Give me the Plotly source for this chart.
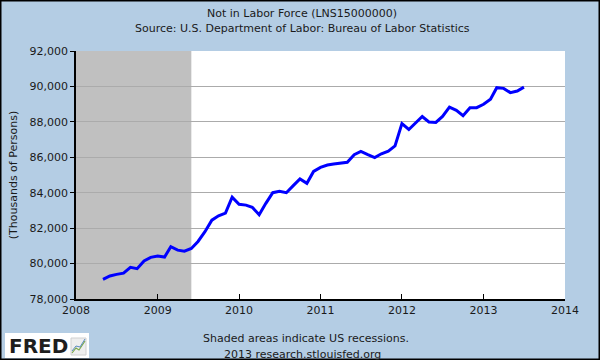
import plotly.graph_objects as go

months = [
    "2008-05", "2008-06", "2008-07", "2008-08", "2008-09", "2008-10", "2008-11", "2008-12",
    "2009-01", "2009-02", "2009-03", "2009-04", "2009-05", "2009-06", "2009-07", "2009-08",
    "2009-09", "2009-10", "2009-11", "2009-12",
    "2010-01", "2010-02", "2010-03", "2010-04", "2010-05", "2010-06", "2010-07", "2010-08",
    "2010-09", "2010-10", "2010-11", "2010-12",
    "2011-01", "2011-02", "2011-03", "2011-04", "2011-05", "2011-06", "2011-07", "2011-08",
    "2011-09", "2011-10", "2011-11", "2011-12",
    "2012-01", "2012-02", "2012-03", "2012-04", "2012-05", "2012-06", "2012-07", "2012-08",
    "2012-09", "2012-10", "2012-11", "2012-12",
    "2013-01", "2013-02", "2013-03", "2013-04", "2013-05", "2013-06", "2013-07",
]
not_in_labor_force = [
    79110, 79300, 79390, 79460, 79790, 79710, 80150, 80350,
    80430, 80370, 80950, 80760, 80700, 80850, 81250, 81800,
    82450, 82700, 82850, 83750,
    83350, 83300, 83180, 82760, 83400, 84000, 84080, 84000,
    84400, 84780, 84530, 85200,
    85430, 85560, 85620, 85680, 85720, 86150, 86330, 86150,
    85980, 86200, 86350, 86640,
    87900, 87570, 87900, 88300, 87990, 87970, 88310, 88830,
    88650, 88350, 88800, 88800,
    88990, 89280, 89930, 89890, 89650, 89740, 89960,
]
recession_start = "2008-01-01"
recession_end = "2009-06-01"
x_tick_years = ["2008", "2009", "2010", "2011", "2012", "2013", "2014"]
y_tick_values = [78000, 80000, 82000, 84000, 86000, 88000, 90000, 92000]

dates = [m + "-01" for m in months]

W, H = 600, 360
L, R, T, B = 76, 565, 51, 299  # plot area in pixels


def px(x):
    return (x - L) / (R - L)


def py(y):
    return (B - y) / (B - T)


BG = "#b4cde4"
FONT = "DejaVu Sans"
TXT = "#1a1a1a"

fig = go.Figure()
fig.add_trace(go.Scatter(
    x=dates, y=not_in_labor_force, mode="lines",
    line=dict(color="#0000ff", width=3), hoverinfo="x+y", showlegend=False,
))

fig.update_layout(
    width=W, height=H,
    margin=dict(l=L, r=W - R, t=T, b=H - B, pad=0),
    paper_bgcolor=BG, plot_bgcolor="white",
    font=dict(family=FONT, size=11, color=TXT),
    xaxis=dict(
        type="date", range=["2008-01-01", "2014-01-01"],
        tickvals=[y + "-01-01" for y in x_tick_years], ticktext=x_tick_years,
        ticks="inside", ticklen=5, tickcolor="black", tickwidth=1,
        showgrid=False, showline=True, linecolor="black", linewidth=1.5,
        zeroline=False, tickfont=dict(size=11, color=TXT),
    ),
    yaxis=dict(
        range=[78000, 92000], tickvals=y_tick_values,
        ticktext=[f"{v:,}" for v in y_tick_values],
        ticks="outside", ticklen=4, tickcolor="black", tickwidth=1,
        showgrid=True, gridcolor="#ababab", gridwidth=1,
        showline=True, linecolor="black", linewidth=1.5,
        zeroline=False, tickfont=dict(size=11, color=TXT),
        title=dict(text="(Thousands of Persons)", font=dict(size=11, color=TXT), standoff=10),
    ),
)

# recession shading (above gridlines, below line)
fig.add_shape(type="rect", xref="x", yref="paper", x0=recession_start, x1=recession_end,
              y0=0, y1=1, fillcolor="#c0c0c0", line=dict(width=0), layer="between")

# outer border
fig.add_shape(type="rect", xref="paper", yref="paper",
              x0=px(0.75), x1=px(W - 0.75), y0=py(H - 0.75), y1=py(0.75),
              line=dict(color="black", width=1.5), fillcolor="rgba(0,0,0,0)", layer="above")

ann = [
    dict(text="Not in Labor Force (LNS15000000)", x=px(302), y=py(13.5)),
    dict(text="Source: U.S. Department of Labor: Bureau of Labor Statistics", x=px(302), y=py(28.5)),
    dict(text="Shaded areas indicate US recessions.", x=px(306), y=py(338)),
    dict(text="2013 research.stlouisfed.org", x=px(302), y=py(354)),
]
for a in ann:
    fig.add_annotation(xref="paper", yref="paper", x=a["x"], y=a["y"], text=a["text"],
                       showarrow=False, xanchor="center", yanchor="middle",
                       font=dict(family=FONT, size=11, color=TXT))

# FRED logo box
fig.add_shape(type="rect", xref="paper", yref="paper", x0=px(5), x1=px(89), y0=py(358), y1=py(333),
              fillcolor="white", line=dict(width=0), layer="above")
fig.add_annotation(xref="paper", yref="paper", x=px(7), y=py(346), text="<b>FRED</b>",
                   showarrow=False, xanchor="left", yanchor="middle",
                   font=dict(family="DejaVu Sans", size=20, color="#1e1e1e"))
fig.add_shape(type="rect", xref="paper", yref="paper", x0=px(71), x1=px(86), y0=py(355), y1=py(338),
              fillcolor="#eeeeee", line=dict(color="#d0d0d0", width=1), layer="above")
fig.add_shape(type="path", xref="paper", yref="paper",
              path=f"M {px(72)},{py(353)} L {px(76)},{py(348)} L {px(79)},{py(350)} L {px(85)},{py(341)}",
              line=dict(color="#7aa84a", width=1.2), layer="above")
fig.add_shape(type="path", xref="paper", yref="paper",
              path=f"M {px(72)},{py(351)} L {px(76)},{py(346)} L {px(80)},{py(347)} L {px(85)},{py(339)}",
              line=dict(color="#5a8ac0", width=1), layer="above")

fig.write_html("out.html", config={"displayModeBar": False},
               post_script="document.body.style.margin='0px';document.body.style.overflow='hidden';")
